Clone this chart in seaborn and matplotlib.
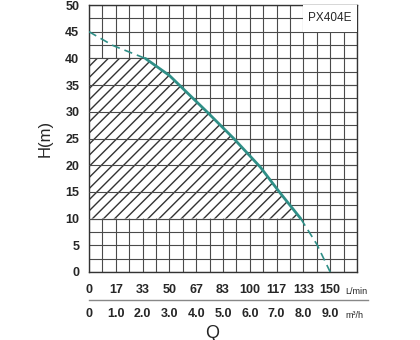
import numpy as np
import pandas as pd
import matplotlib
matplotlib.use("Agg")
import matplotlib.pyplot as plt
import seaborn as sns
from matplotlib.patches import Rectangle

# ---- data ----
q_curve = [0.0, 0.9, 2.1, 3.0, 4.4, 5.4, 6.4, 7.1, 7.9, 8.5, 9.0]   # m3/h
h_curve = [45.0, 42.4, 40.0, 36.8, 30.0, 25.0, 19.6, 15.0, 10.0, 5.2, 0.0]  # m
q_ticks = [0, 1, 2, 3, 4, 5, 6, 7, 8, 9]
m3h_labels = ["0", "1.0", "2.0", "3.0", "4.0", "5.0", "6.0", "7.0", "8.0", "9.0"]
lmin_labels = ["0", "17", "33", "50", "67", "83", "100", "117", "133", "150"]
h_ticks = [0, 5, 10, 15, 20, 25, 30, 35, 40, 45, 50]
model = "PX404E"
work_low, work_high = 10, 40   # recommended working range (hatched)
solid_from, solid_to = 2, 8     # indices into the curve lists

sns.set_style("white")
plt.rcParams['font.family'] = ['Liberation Sans', 'DejaVu Sans']

W, H = 420, 340
fig = plt.figure(figsize=(4.2, 3.4), dpi=100)
ax = fig.add_axes([89 / W, 1 - 272 / H, (357 - 89) / W, (272 - 5) / H])

df = pd.DataFrame({"Q": q_curve, "H": h_curve})
grid_c = "#4a4a4a"

# grid
ax.set_xlim(0, 10)
ax.set_ylim(0, 50)
ax.set_xticks(np.arange(0, 10.01, 0.5))
ax.set_yticks(np.arange(0, 50.01, 2.5))
ax.grid(True, color=grid_c, linewidth=0.8)
ax.set_axisbelow(True)
ax.tick_params(axis='x', length=0, labelbottom=False)
ylabels = [f"{v:g}" if v % 5 == 0 else "" for v in np.arange(0, 50.01, 2.5)]
ax.set_yticklabels(ylabels, fontsize=9, fontweight='bold')
ax.tick_params(axis='y', length=0, pad=7)
for s in ax.spines.values():
    s.set_color("#333333")
    s.set_linewidth(1.0)

# hatched working area
hq = [0.0] + q_curve[solid_from:solid_to + 1]
hh = [work_high] + h_curve[solid_from:solid_to + 1]
ax.fill_between(hq, work_low, hh, facecolor="white", edgecolor="#333333",
                hatch="///", linewidth=0, zorder=2)
for v in range(work_low, work_high + 1, 5):
    ax.axhline(v, color=grid_c, linewidth=0.8, zorder=3)

# model box
ax.add_patch(Rectangle((8.0, 45.0), 2.0, 5.0, facecolor="white",
                       edgecolor="none", zorder=3))
ax.text(9.0, 47.6, model, ha="center", va="center", fontsize=8.5, zorder=4)

# performance curve
teal = "#2f8f87"
sns.lineplot(data=df.iloc[:solid_from + 1], x="Q", y="H", ax=ax, color=teal,
             linewidth=1.2, linestyle=(0, (5, 3)), sort=False, zorder=5)
sns.lineplot(data=df.iloc[solid_from:solid_to + 1], x="Q", y="H", ax=ax,
             color=teal, linewidth=2.0, sort=False, zorder=5)
sns.lineplot(data=df.iloc[solid_to:], x="Q", y="H", ax=ax, color=teal,
             linewidth=1.2, linestyle=(0, (5, 3)), sort=False, zorder=5)
ax.set_xlabel("")
ax.set_ylabel("H(m)", fontsize=12, labelpad=9)

# flow axis with two unit rows
ax2 = fig.add_axes([89 / W, 1 - 300 / H, (368 - 89) / W, 0.0001])
ax2.set_xlim(0, (368 - 89) / 26.8)
ax2.set_yticks([])
for k in ["top", "left", "right"]:
    ax2.spines[k].set_visible(False)
ax2.spines["bottom"].set_color("#888888")
ax2.spines["bottom"].set_linewidth(1.0)
ax2.set_xticks(q_ticks)
ax2.set_xticklabels(m3h_labels, fontsize=9, fontweight='bold')
ax2.tick_params(axis='x', direction='in', length=3, color="#888888", pad=6)
sec = ax2.secondary_xaxis('top')
sec.set_xticks(q_ticks)
sec.set_xticklabels(lmin_labels, fontsize=9, fontweight='bold')
sec.tick_params(axis='x', length=0, pad=3)
for s in sec.spines.values():
    s.set_visible(False)

fig.text(345 / W, 1 - 292 / H, "L/min", fontsize=6.5, ha="left", va="center")
fig.text(345 / W, 1 - 316 / H, "m³/h", fontsize=6.5, ha="left", va="center")
fig.text(212 / W, 1 - 333 / H, "Q", fontsize=13, ha="center", va="center")

fig.savefig("out.png", dpi=100)
